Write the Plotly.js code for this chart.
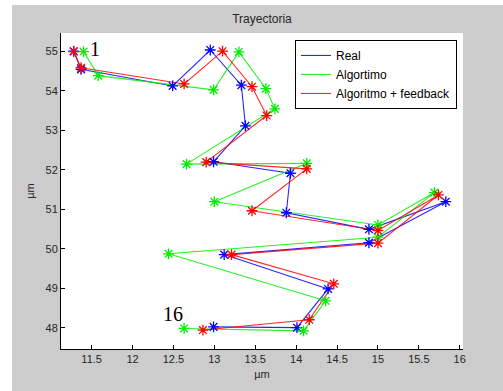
<!DOCTYPE html>
<html>
<head>
<meta charset="utf-8">
<script src="https://cdn.plot.ly/plotly-3.0.1.min.js"></script>
<style>
  html, body { margin: 0; padding: 0; background: #ffffff; width: 503px; height: 391px; overflow: hidden; }
  #chart { position: absolute; left: 12px; top: 5px; width: 491px; height: 386px; }
</style>
</head>
<body>
<div id="chart"></div>
<script>
// Series names
const seriesNames = ["Real", "Algortimo", "Algoritmo + feedback"];

// Real (blue)
const realX = [11.28, 11.37, 12.49, 12.95, 13.33, 13.38, 12.99, 13.93, 13.88, 14.89, 15.83, 14.89, 13.12, 14.39, 14.01, 12.99];
const realY = [55.00, 54.54, 54.12, 55.03, 54.14, 53.11, 52.20, 51.91, 50.91, 50.49, 51.19, 50.15, 49.85, 48.98, 48.00, 48.02];

// Algortimo (green)
const algX = [11.40, 11.58, 12.99, 13.30, 13.63, 13.74, 12.66, 14.13, 13.00, 15.00, 15.69, 15.00, 12.44, 14.36, 14.09, 12.63];
const algY = [54.99, 54.38, 54.02, 54.98, 54.05, 53.54, 52.14, 52.16, 51.19, 50.60, 51.42, 50.29, 49.87, 48.68, 47.92, 47.98];

// Algoritmo + feedback (red)
const fbX = [11.28, 11.37, 12.63, 13.10, 13.46, 13.64, 12.90, 14.13, 13.46, 15.00, 15.74, 15.00, 13.21, 14.46, 14.16, 12.86];
const fbY = [54.99, 54.58, 54.17, 55.00, 54.10, 53.37, 52.19, 52.02, 50.96, 50.46, 51.36, 50.14, 49.85, 49.11, 48.20, 47.94];

// Point labels
const pointLabels = ["1", "16"];

const xTicks = [11.5, 12, 12.5, 13, 13.5, 14, 14.5, 15, 15.5, 16];
const yTicks = [48, 49, 50, 51, 52, 53, 54, 55];

const colors = ["#0000ff", "#00ee00", "#ff0000"];
const xs = [realX, algX, fbX];
const ys = [realY, algY, fbY];

const traces = [];
for (let i = 0; i < 3; i++) {
  traces.push({
    x: xs[i], y: ys[i], type: "scatter", mode: "lines", name: seriesNames[i],
    line: { color: colors[i], width: 1.1 }, opacity: 0.85, showlegend: true
  });
}
for (let i = 0; i < 3; i++) {
  traces.push({
    x: xs[i], y: ys[i], type: "scatter", mode: "markers", name: seriesNames[i],
    marker: { symbol: "asterisk-open", size: 9, line: { color: colors[i], width: 1.3 }, color: colors[i] },
    showlegend: false, hoverinfo: "skip"
  });
}

const axisFont = { family: "Liberation Sans, Arial, sans-serif", size: 11, color: "#262626" };

const layout = {
  width: 491, height: 386,
  margin: { l: 49, r: 40, t: 28, b: 42, pad: 0 },
  paper_bgcolor: "#cccccc",
  plot_bgcolor: "#ffffff",
  font: axisFont,
  title: {
    text: "Trayectoria",
    font: { family: "Liberation Sans, Arial, sans-serif", size: 12, color: "#262626" },
    x: 0.5, xref: "paper", y: 1 - 14 / 386, yref: "container", yanchor: "middle"
  },
  xaxis: {
    range: [11.125, 16.04], tickvals: xTicks, ticktext: xTicks.map(String),
    showline: true, linecolor: "#000000", linewidth: 1, mirror: false,
    ticks: "inside", ticklen: 4, tickcolor: "#000000", tickwidth: 1,
    showgrid: false, zeroline: false, tickfont: axisFont,
    title: { text: "µm", font: axisFont, standoff: 6 }
  },
  yaxis: {
    range: [47.46, 55.46], tickvals: yTicks, ticktext: yTicks.map(String),
    showline: true, linecolor: "#000000", linewidth: 1, mirror: false,
    ticks: "inside", ticklen: 4, tickcolor: "#000000", tickwidth: 1,
    showgrid: false, zeroline: false, tickfont: axisFont,
    title: { text: "µm", font: axisFont, standoff: 8 }
  },
  legend: {
    x: 0.985, xanchor: "right", y: 0.978, yanchor: "top",
    bgcolor: "#ffffff", bordercolor: "#000000", borderwidth: 1,
    font: { family: "Liberation Sans, Arial, sans-serif", size: 12, color: "#000000" },
    tracegroupgap: 0
  },
  annotations: [
    { x: 11.54, y: 55.06, xref: "x", yref: "y", text: pointLabels[0], showarrow: false,
      font: { family: "Liberation Serif, Times New Roman, serif", size: 20, color: "#000000" } },
    { x: 12.49, y: 48.35, xref: "x", yref: "y", text: pointLabels[1], showarrow: false,
      font: { family: "Liberation Serif, Times New Roman, serif", size: 20, color: "#000000" } }
  ],
  showlegend: true
};

Plotly.newPlot("chart", traces, layout, { displayModeBar: false, staticPlot: true });
</script>
</body>
</html>
